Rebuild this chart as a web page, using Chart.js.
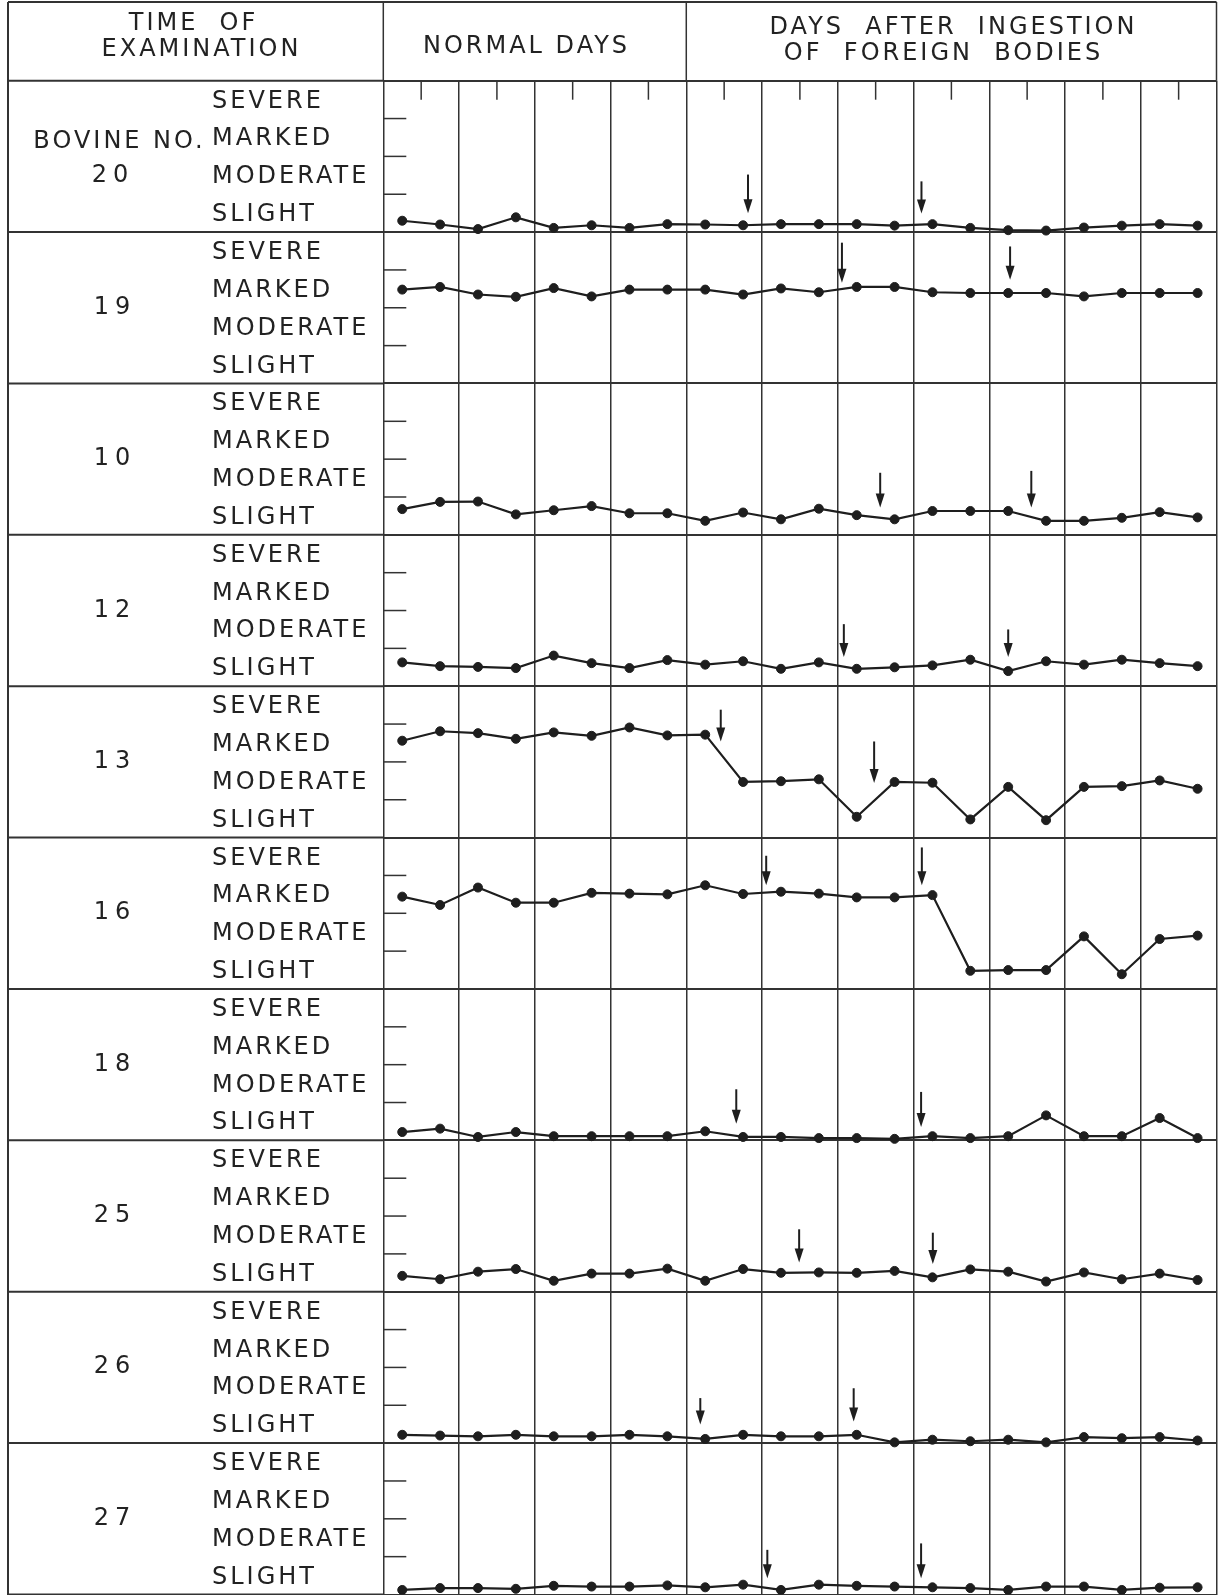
<!DOCTYPE html>
<html><head><meta charset="utf-8">
<script src="https://cdn.jsdelivr.net/npm/chart.js@4.4.1/dist/chart.umd.min.js"></script>
<style>
html,body{margin:0;padding:0;background:#fff;overflow:hidden;}
#wrap{position:relative;width:1222px;height:1595px;overflow:hidden;background:#fff;}
canvas{position:absolute;left:0;top:0;}
.t{position:absolute;font-family:"DejaVu Sans",sans-serif;font-size:24px;color:#222;line-height:1;white-space:pre;letter-spacing:3px;}
.c{transform:translate(-50%,-50%);padding-left:3px;}
.n{letter-spacing:6px;padding-left:6px;}
.l{transform:translateY(-50%);}
</style></head><body><div id="wrap"><canvas id="c" width="1222" height="1600"></canvas></div>
<script>
// ---- data ----
const bovines = ['20','19','10','12','13','16','18','25','26','27'];
const levels = ['SEVERE','MARKED','MODERATE','SLIGHT'];
const normalDays = 8;            // first 8 examinations = normal days
// severity score within each bovine's band: 0 = bottom of SLIGHT, 4 = top of SEVERE
const b20 = [0.30,0.20,0.08,0.39,0.11,0.18,0.11,0.21,0.20,0.18,0.21,0.21,0.21,0.17,0.21,0.11,0.05,0.04,0.12,0.17,0.21,0.17];
const b19 = [2.48,2.55,2.35,2.29,2.52,2.30,2.48,2.48,2.48,2.35,2.51,2.41,2.55,2.55,2.41,2.39,2.39,2.39,2.30,2.39,2.39,2.39];
const b10 = [0.68,0.87,0.88,0.54,0.65,0.76,0.57,0.57,0.37,0.59,0.41,0.69,0.52,0.41,0.63,0.63,0.63,0.37,0.37,0.45,0.60,0.46];
const b12 = [0.63,0.53,0.51,0.48,0.81,0.61,0.48,0.69,0.57,0.66,0.46,0.63,0.46,0.50,0.55,0.70,0.40,0.66,0.57,0.70,0.61,0.53];
const b13 = [2.56,2.81,2.76,2.61,2.78,2.69,2.91,2.70,2.72,1.47,1.49,1.54,0.55,1.47,1.45,0.48,1.34,0.46,1.34,1.36,1.51,1.29];
const b16 = [2.44,2.22,2.68,2.28,2.28,2.54,2.52,2.50,2.74,2.51,2.57,2.52,2.42,2.42,2.48,0.48,0.50,0.50,1.39,0.39,1.32,1.41];
const b18 = [0.22,0.31,0.09,0.22,0.11,0.11,0.11,0.11,0.24,0.09,0.09,0.06,0.06,0.04,0.11,0.06,0.11,0.66,0.11,0.11,0.59,0.06];
const b25 = [0.42,0.33,0.53,0.60,0.29,0.48,0.48,0.61,0.29,0.60,0.50,0.51,0.50,0.55,0.38,0.59,0.53,0.27,0.51,0.33,0.48,0.31];
const b26 = [0.22,0.20,0.18,0.22,0.18,0.18,0.22,0.18,0.11,0.22,0.18,0.18,0.22,0.02,0.09,0.05,0.09,0.02,0.16,0.13,0.16,0.07];
const b27 = [0.12,0.17,0.17,0.15,0.23,0.21,0.21,0.24,0.19,0.26,0.12,0.26,0.23,0.21,0.19,0.17,0.12,0.21,0.21,0.12,0.18,0.19];
// ingestion arrows: [day position, arrow tip score, arrow tail score]
const a20 = [[9.63,0.50,1.52],[14.21,0.49,1.34]];
const a19 = [[12.11,2.66,3.72],[16.55,2.74,3.62]];
const a10 = [[13.12,0.72,1.64],[17.11,0.72,1.69]];
const a12 = [[12.16,0.77,1.64],[16.50,0.77,1.50]];
const a13 = [[8.91,2.54,3.38],[12.96,1.44,2.54]];
const a16 = [[10.11,2.74,3.52],[14.22,2.74,3.74]];
const a18 = [[9.32,0.44,1.35],[14.20,0.35,1.28]];
const a25 = [[10.98,0.77,1.65],[14.51,0.73,1.56]];
const a26 = [[8.37,0.49,1.19],[12.42,0.57,1.45]];
const a27 = [[10.14,0.43,1.18],[14.20,0.43,1.35]];

const series = [b20,b19,b10,b12,b13,b16,b18,b25,b26,b27];
const arrows = [a20,a19,a10,a12,a13,a16,a18,a25,a26,a27];
const nPts = b20.length;
const nRows = bovines.length;

const ink = '#1e1e1e';
const gridInk = '#333';

const datasets = series.map((vals,k)=>({
  label: 'Bovine ' + bovines[k],
  data: vals.map((v,i)=>({x:i+0.5, y:(nRows-1-k)*4+v})),
  borderColor: ink, borderWidth: 2.2,
  pointRadius: 4.5, pointBackgroundColor: ink, pointBorderColor: ink, pointBorderWidth: 1,
  tension: 0, fill: false
}));

const framePlugin = {
  id:'frame',
  beforeDatasetsDraw(chart){
    const {ctx, chartArea:a, scales:{x:xs, y:ys}} = chart;
    ctx.save(); ctx.strokeStyle = gridInk; ctx.lineCap = 'butt';
    const line=(x1,y1,x2,y2,w)=>{ctx.lineWidth=w;ctx.beginPath();ctx.moveTo(x1,y1);ctx.lineTo(x2,y2);ctx.stroke();};
    const L = 8, T = 2;
    line(L,T,a.right,T,2);
    line(L,T,L,chart.height,2);
    line(a.right,T,a.right,a.top,1.5);
    line(xs.getPixelForValue(0),T,xs.getPixelForValue(0),a.top,1.5);
    line(xs.getPixelForValue(normalDays),T,xs.getPixelForValue(normalDays),a.top,1.5);
    for(let k=0;k<=nRows;k++){const y=ys.getPixelForValue(4*k); line(L,y,a.left,y,2);}
    for(let r=0;r<nRows;r++) for(let j=1;j<=3;j++){const y=ys.getPixelForValue(4*r+j); line(a.left,y,a.left+23,y,1.5);}
    for(let d=1; d<nPts; d+=2){const x=xs.getPixelForValue(d); line(x,a.top,x,a.top+19,1.5);}
    ctx.restore();
  },
  afterDatasetsDraw(chart){
    const {ctx, scales:{x:xs, y:ys}} = chart;
    ctx.save(); ctx.strokeStyle = ink; ctx.fillStyle = ink; ctx.lineWidth = 2;
    arrows.forEach((list,k)=>{
      const base = (nRows-1-k)*4;
      list.forEach(([ax,tip,top])=>{
        const px = xs.getPixelForValue(ax), ty = ys.getPixelForValue(base+tip), tt = ys.getPixelForValue(base+top);
        ctx.beginPath(); ctx.moveTo(px,tt); ctx.lineTo(px,ty-10); ctx.stroke();
        ctx.beginPath(); ctx.moveTo(px-4.5,ty-14); ctx.lineTo(px+4.5,ty-14); ctx.lineTo(px,ty); ctx.closePath(); ctx.fill();
      });
    });
    ctx.restore();
  }
};

const chart = new Chart(document.getElementById('c'), {
  type: 'line',
  data: { datasets },
  plugins: [framePlugin],
  options: {
    responsive: false, animation: false, devicePixelRatio: 1,
    layout: { padding: { left: 383.3, top: 80.7, right: 1, bottom: 3.3 } },
    plugins: { legend: { display: false }, tooltip: { enabled: false } },
    scales: {
      x: { type: 'linear', min: 0, max: nPts, afterFit: s => { s.height = 0; },
           ticks: { display: false, stepSize: 2 }, grid: { color: gridInk, lineWidth: 1.5, drawTicks: false }, border: { display: false } },
      y: { type: 'linear', min: 0, max: nRows*4, afterFit: s => { s.width = 0; },
           ticks: { display: false, stepSize: 4 }, grid: { color: gridInk, lineWidth: 2, drawTicks: false }, border: { display: false } }
    }
  }
});

// ---- text ----
const wrap = document.getElementById('wrap');
function addText(txt, x, y, cls){
  const d = document.createElement('div');
  d.className = 't ' + cls; d.textContent = txt;
  d.style.left = x + 'px'; d.style.top = y + 'px';
  wrap.appendChild(d);
}
addText('TIME  OF', 192, 22, 'c');
addText('EXAMINATION', 200, 48, 'c');
addText('NORMAL DAYS', 525, 45, 'c');
addText('DAYS  AFTER  INGESTION', 952, 26, 'c');
addText('OF  FOREIGN  BODIES', 942, 52, 'c');
const ys = chart.scales.y;
bovines.forEach((b,k)=>{
  const base = (nRows-1-k)*4;
  levels.forEach((lv,j)=>{ addText(lv, 212, ys.getPixelForValue(base+3.5-j), 'l'); });
  if(k===0){
    addText('BOVINE NO.', 118, ys.getPixelForValue(base+2.5)+3, 'c');
    addText(b, 110, ys.getPixelForValue(base+1.5)-1, 'c n');
  } else {
    addText(b, 112, ys.getPixelForValue(base+2)-2, 'c n');
  }
});
</script></body></html>
